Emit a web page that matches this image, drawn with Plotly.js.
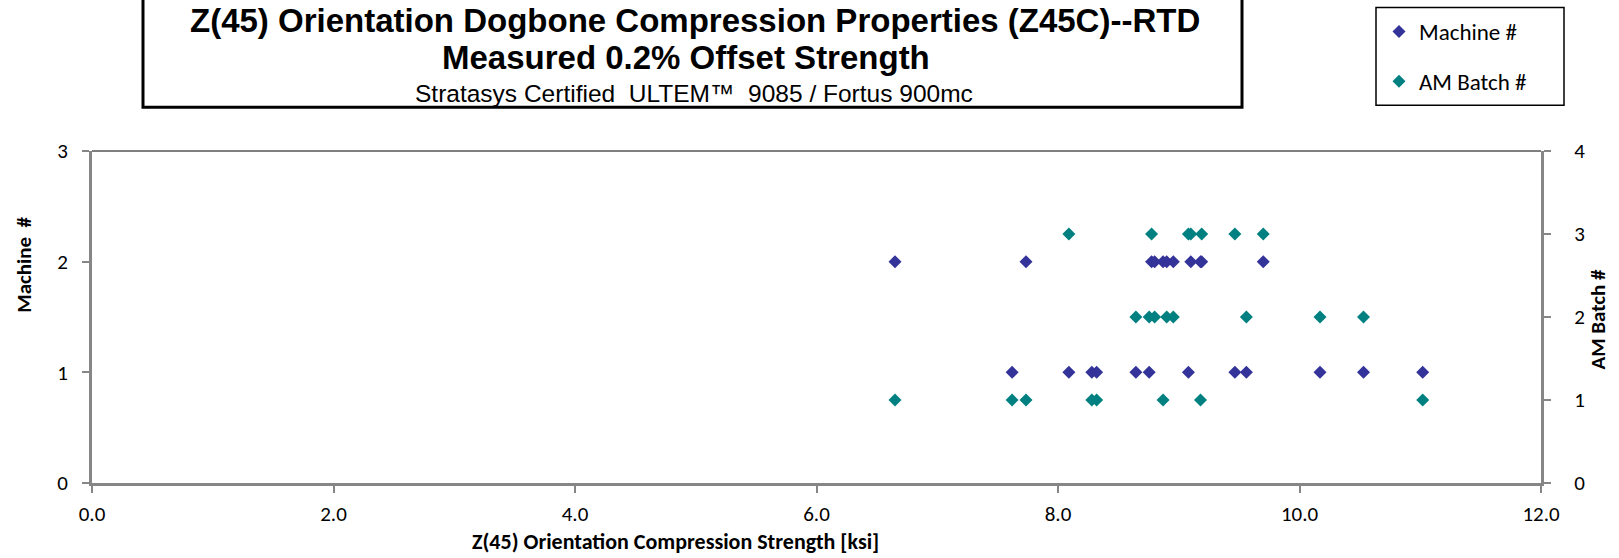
<!DOCTYPE html>
<html>
<head>
<meta charset="utf-8">
<script src="https://cdn.plot.ly/plotly-3.0.1.min.js"></script>
<style>html,body{margin:0;padding:0;background:#fff;}#chart{width:1619px;height:558px;}</style>
</head>
<body>
<div id="chart"></div>
<script>
// Compression strength [ksi] of each specimen
const strength = [6.65, 7.62, 7.735, 8.09, 8.28, 8.32, 8.645, 8.755, 8.775, 8.80, 8.87, 8.90, 8.955, 9.08, 9.10, 9.18, 9.19, 9.465, 9.56, 9.70, 10.17, 10.53, 11.02];
const machine  = [2, 1, 2, 1, 1, 1, 1, 1, 2, 2, 2, 2, 2, 1, 2, 2, 2, 1, 1, 2, 1, 1, 1];
const amBatch  = [1, 1, 1, 3, 1, 1, 2, 2, 3, 2, 1, 2, 2, 3, 3, 1, 3, 3, 2, 3, 2, 2, 1];

const titleLine1 = "Z(45) Orientation Dogbone Compression Properties (Z45C)--RTD";
const titleLine2 = "Measured 0.2% Offset Strength";
const titleLine3 = "Stratasys Certified  ULTEM™  9085 / Fortus 900mc";
const xTitle = "Z(45) Orientation Compression Strength [ksi]";
const y1Title = "Machine  #";
const y2Title = "AM Batch #";

const W = 1619, H = 558;
const L = 92, R = 78, T = 150, B = 75;
const pw = W - L - R, ph = H - T - B;
const px = x => (x - L) / pw;
const py = y => (H - B - y) / ph;

const bodyFont = "Carlito, Calibri, Lato, sans-serif";
const titleFont = "'Liberation Sans', Arial, sans-serif";
const gray = "#868686";

const traces = [
  {x: strength, y: machine, name: "Machine #", type: "scatter", mode: "markers",
   legendgroup: "a", marker: {symbol: "diamond", size: 10, color: "#333399"}, xaxis: "x", yaxis: "y"},
  {x: strength, y: amBatch, name: "AM Batch #", type: "scatter", mode: "markers",
   legendgroup: "b", marker: {symbol: "diamond", size: 10, color: "#008080"}, xaxis: "x", yaxis: "y2"}
];

const axisCommon = {showgrid: false, zeroline: false, showline: true, linecolor: gray, linewidth: 3,
  ticks: "outside", ticklen: 7, tickcolor: gray, tickwidth: 2,
  tickfont: {family: bodyFont, size: 21, color: "#000"}};

const layout = {
  width: W, height: H,
  margin: {l: L, r: R, t: T, b: B, pad: 0},
  paper_bgcolor: "#fff", plot_bgcolor: "#fff",
  font: {family: bodyFont, size: 21, color: "#000"},
  showlegend: true,
  legend: {x: px(1379), y: py(10), xanchor: "left", yanchor: "top",
           borderwidth: 0, bgcolor: "rgba(0,0,0,0)",
           font: {family: bodyFont, size: 23, color: "#000"},
           traceorder: "grouped", tracegroupgap: 17, itemwidth: 30},
  xaxis: Object.assign({range: [0, 12], dtick: 2, tick0: 0, tickformat: ".1f", ticklabelstandoff: 3}, axisCommon),
  yaxis: Object.assign({range: [0, 3], dtick: 1, tick0: 0, ticklabelstandoff: 10}, axisCommon),
  yaxis2: Object.assign({range: [0, 4], dtick: 1, tick0: 0, overlaying: "y", side: "right",
                         ticklabelposition: "outside", ticklabelstandoff: 19}, axisCommon),
  shapes: [
    {type: "line", xref: "paper", yref: "paper", x0: 0, x1: 1, y0: 1, y1: 1, line: {color: "#000", width: 1}, layer: "below"},
    {type: "rect", xref: "paper", yref: "paper", x0: px(143), x1: px(1242), y0: py(106), y1: py(-5),
     line: {color: "#000", width: 3}, fillcolor: "rgba(0,0,0,0)"},
    {type: "rect", xref: "paper", yref: "paper", x0: px(1376), x1: px(1564), y0: py(104), y1: py(6),
     line: {color: "#000", width: 1.5}, fillcolor: "rgba(0,0,0,0)"}
  ],
  annotations: [
    {text: "<b>" + titleLine1 + "</b>", xref: "paper", yref: "paper", x: px(695), y: py(19), showarrow: false,
     borderpad: 0, xanchor: "center", yanchor: "middle", font: {family: titleFont, size: 33, color: "#000"}},
    {text: "<b>" + titleLine2 + "</b>", xref: "paper", yref: "paper", x: px(686), y: py(56), showarrow: false,
     borderpad: 0, xanchor: "center", yanchor: "middle", font: {family: titleFont, size: 33, color: "#000"}},
    {text: titleLine3, xref: "paper", yref: "paper", x: px(694), y: py(92), showarrow: false,
     borderpad: 0, xanchor: "center", yanchor: "middle", font: {family: titleFont, size: 24.5, color: "#000"}},
    {text: "<b>" + xTitle + "</b>", xref: "paper", yref: "paper", x: px(675), y: py(542), showarrow: false,
     borderpad: 0, xanchor: "center", yanchor: "middle", font: {family: bodyFont, size: 22, color: "#000"}},
    {text: "<b>" + y1Title + "</b>", xref: "paper", yref: "paper", x: px(24), y: py(264), showarrow: false,
     borderpad: 0, textangle: -90, xanchor: "center", yanchor: "middle", font: {family: bodyFont, size: 21, color: "#000"}},
    {text: "<b>" + y2Title + "</b>", xref: "paper", yref: "paper", x: px(1598), y: py(318), showarrow: false,
     borderpad: 0, textangle: -90, xanchor: "center", yanchor: "middle", font: {family: bodyFont, size: 21, color: "#000"}}
  ]
};

Plotly.newPlot("chart", traces, layout, {displayModeBar: false, staticPlot: true});
</script>
</body>
</html>
